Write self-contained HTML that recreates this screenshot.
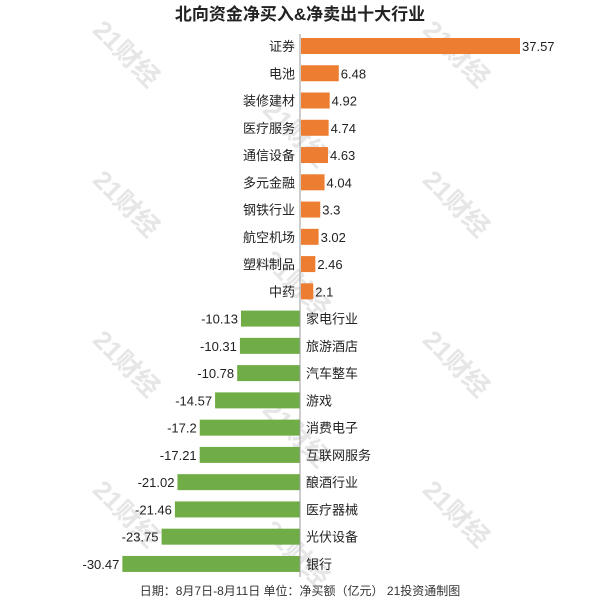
<!DOCTYPE html>
<html><head><meta charset="utf-8"><style>
body{margin:0;background:#fff;}
svg text{font-family:"Liberation Sans","Noto Sans CJK SC",sans-serif;}
</style></head><body>
<svg id="chart" width="600" height="600" xmlns="http://www.w3.org/2000/svg">
<g id="wm" fill="#e6e6e6" font-size="26" font-weight="bold"></g>
<text x="300" y="20" text-anchor="middle" font-size="17" font-weight="bold" fill="#222">北向资金净买入&amp;净卖出十大行业</text>
<g id="bars"></g>
<line x1="300" y1="34" x2="300" y2="577" stroke="#999" stroke-width="1"/>
<text x="300" y="595" text-anchor="middle" font-size="12" fill="#333">日期：8月7日-8月11日 单位：净买额（亿元） 21投资通制图</text>
</svg>
<script>
const categories=["证券","电池","装修建材","医疗服务","通信设备","多元金融","钢铁行业","航空机场","塑料制品","中药","家电行业","旅游酒店","汽车整车","游戏","消费电子","互联网服务","酿酒行业","医疗器械","光伏设备","银行"];
const values=[37.57,6.48,4.92,4.74,4.63,4.04,3.3,3.02,2.46,2.1,-10.13,-10.31,-10.78,-14.57,-17.2,-17.21,-21.02,-21.46,-23.75,-30.47];
const labels=["37.57","6.48","4.92","4.74","4.63","4.04","3.3","3.02","2.46","2.1","-10.13","-10.31","-10.78","-14.57","-17.2","-17.21","-21.02","-21.46","-23.75","-30.47"];
const NS="http://www.w3.org/2000/svg";
const x0=300,k=219/37.57;
const xs=v=>x0+v*k;
const ys=i=>46+i*27.26;
const g=document.getElementById('bars');
function mk(t,a){const e=document.createElementNS(NS,t);for(const n in a)e.setAttribute(n,a[n]);return e;}
values.forEach((v,i)=>{
  const y=ys(i),pos=v>=0;
  const x1=Math.min(xs(v),x0),w=Math.abs(xs(v)-x0);
  const r=mk('rect',{x:x1+(pos?1:0),y:y-8,width:w,height:16,fill:pos?'#ed7d31':'#70ad47'});
  
  
  g.appendChild(r);
  const c=mk('text',{x:pos?x0-5:x0+6,y:y+5,'font-size':13,fill:'#222','text-anchor':pos?'end':'start'});
  c.textContent=categories[i];
  
  
  g.appendChild(c);
  const l=mk('text',{x:pos?xs(v)+3:xs(v)-3,y:y+5,'font-size':13,fill:'#222','text-anchor':pos?'start':'end'});
  l.textContent=labels[i];
  
  
  g.appendChild(l);
});
const wm=document.getElementById('wm');
[[120,60],[450,60],[290,140],[120,210],[450,210],[290,290],[120,370],[450,370],[290,440],[120,520],[450,520],[290,560]].forEach(p=>{
  const t=mk('text',{x:p[0],y:p[1],transform:`rotate(45 ${p[0]} ${p[1]})`,'text-anchor':'middle'});
  t.textContent='21财经';
  
  
  wm.appendChild(t);
});
</script>
</body></html>
